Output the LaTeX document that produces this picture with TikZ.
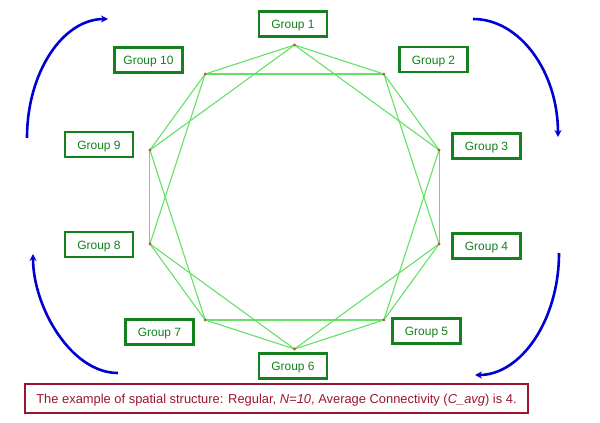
\documentclass[tikz,border=0pt]{standalone}
\usepackage{fontspec}
\setmainfont{Liberation Sans}
\usetikzlibrary{arrows.meta}
\definecolor{boxgreen}{RGB}{20,128,30}
\definecolor{edgegreen}{RGB}{100,225,100}
\definecolor{arrowblue}{RGB}{0,0,210}
\definecolor{capred}{RGB}{155,20,50}
\definecolor{dotred}{RGB}{200,80,60}
\tikzset{
  grp/.style={draw=boxgreen, line width=2.2pt, text=boxgreen, minimum width=68pt, minimum height=25pt, inner sep=0pt, text height=9pt, text depth=0pt, font=\fontsize{12}{14}\selectfont},
  edge/.style={draw=edgegreen, line width=1.1pt},
  flow/.style={draw=arrowblue, line width=2.6pt, -{Stealth[length=7pt,width=7pt]}},
  vdot/.style={circle, fill=dotred, inner sep=0pt, minimum size=3.2pt}
}
\begin{document}
\begin{tikzpicture}[x=1pt,y=-1pt]
\useasboundingbox (0,0) rectangle (600,423);
% vertices of regular decagon
\foreach \i in {1,...,10} {
  \coordinate (v\i) at ({294.5+152*sin(36*(\i-1))},{197-152*cos(36*(\i-1))});
}
\foreach \i in {1,...,10} {
  \pgfmathtruncatemacro{\j}{mod(\i,10)+1}
  \pgfmathtruncatemacro{\k}{mod(\i+1,10)+1}
  \draw[edge] (v\i) -- (v\j);
  \draw[edge] (v\i) -- (v\k);
}
\foreach \i in {1,...,10} { \node[vdot] (d\i) at (v\i) {}; }
% group labels
\node[grp] (g1) at (293,24) {Group 1};
\node[grp] (g2) at (433.5,59.5) {Group 2};
\node[grp] (g3) at (486.5,146) {Group 3};
\node[grp] (g4) at (486.5,246) {Group 4};
\node[grp] (g5) at (426.5,331) {Group 5};
\node[grp] (g6) at (293,366) {Group 6};
\node[grp] (g7) at (159.5,332) {Group 7};
\node[grp] (g8) at (99,244.5) {Group 8};
\node[grp] (g9) at (99,144.5) {Group 9};
\node[grp] (g10) at (148.5,60) {Group 10};
% arrows
\coordinate (a1s) at (27,138); \coordinate (a1e) at (108,19);
\coordinate (a2s) at (473,19); \coordinate (a2e) at (558,137);
\coordinate (a3s) at (559,253); \coordinate (a3e) at (475,375);
\coordinate (a4s) at (118,373); \coordinate (a4e) at (33,254);
\draw[flow] (a1s) .. controls (27,72) and (63,19) .. (a1e);
\draw[flow] (a2s) .. controls (520,19) and (558,72) .. (a2e);
\draw[flow] (a3s) .. controls (559,320) and (521,375) .. (a3e);
\draw[flow] (a4s) .. controls (71,373) and (33,307) .. (a4e);
% caption
\node[draw=capred, line width=2.2pt, text=capred, minimum width=503pt, minimum height=29pt, inner sep=0pt, text height=9.5pt, text depth=0pt, font=\fontsize{12.9}{15}\selectfont] (cap) at (276.5,398.5)
  {The example of spatial structure: Regular, \textit{N=10}, Average Connectivity (\textit{C\_avg}) is 4.};
\end{tikzpicture}
\end{document}
